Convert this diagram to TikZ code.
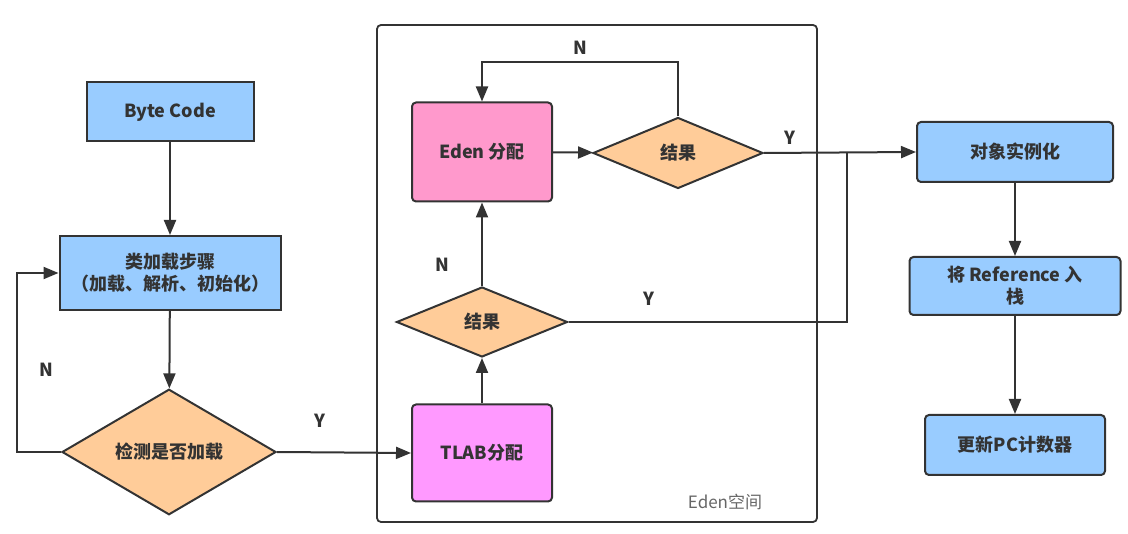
\documentclass[tikz,border=0pt]{standalone}
\usepackage{fontspec}
\setmainfont{Noto Sans CJK SC}
\usetikzlibrary{shapes.geometric,arrows.meta}
\definecolor{lineclr}{HTML}{333333}
\definecolor{blueclr}{HTML}{99CCFF}
\definecolor{orangeclr}{HTML}{FFCC99}
\definecolor{pinkclr}{HTML}{FF99CC}
\definecolor{violetclr}{HTML}{FF99FF}
\tikzset{
  box/.style={draw=lineclr, line width=2pt, fill=blueclr, text=lineclr,
    font=\fontsize{18}{22}\selectfont\bfseries, align=center, inner sep=2pt},
  rbox/.style={box, rounded corners=4pt},
  decide/.style={diamond, draw=lineclr, line width=2pt, fill=orangeclr, text=lineclr,
    font=\fontsize{18}{22}\selectfont\bfseries, inner sep=0pt},
  lbl/.style={text=lineclr, font=\fontsize{18}{22}\selectfont\bfseries},
  arr/.style={draw=lineclr, line width=2pt, -{Triangle[length=15pt, width=12pt]}},
  ln/.style={draw=lineclr, line width=2pt}
}
\begin{document}
\begin{tikzpicture}[x=1pt, y=-1pt]
\useasboundingbox (0,0) rectangle (1128,534);
% Eden space
\node[draw=lineclr, line width=1.8pt, rounded corners=4pt, minimum width=440pt, minimum height=497pt] (space) at (597,273.5) {};
\node[text=lineclr!75, font=\fontsize{17}{20}\selectfont] (spacelbl) at (725,502) {Eden空间};
% left column
\node[box, minimum width=167pt, minimum height=59pt] (byte) at (170,112) {Byte Code};
\node[box, minimum width=221pt, minimum height=74pt] (load) at (170,273) {类加载步骤\\（加载、解析、初始化）};
\node[decide, minimum width=214pt, minimum height=104pt] (check) at (169,452) {检测是否加载};
% Eden
\node[rbox, fill=pinkclr, minimum width=140pt, minimum height=99pt] (eden) at (482,152) {Eden 分配};
\node[decide, minimum width=170pt, minimum height=71pt] (res1) at (678,153) {结果};
\node[decide, minimum width=171pt, minimum height=70pt] (res2) at (482,322) {结果};
\node[rbox, fill=violetclr, minimum width=140pt, minimum height=97pt] (tlab) at (482,453) {TLAB分配};
% right column
\node[rbox, minimum width=196pt, minimum height=60pt] (obj) at (1015,152) {对象实例化};
\node[rbox, minimum width=211pt, minimum height=58pt] (ref) at (1015,286) {将 Reference 入\\栈};
\node[rbox, minimum width=180pt, minimum height=60pt] (pc) at (1015,445) {更新PC计数器};
\coordinate (join) at (847,153);

\draw [arr] (byte) -- (load);
\draw [arr] (load) -- (check);
\draw [arr] (check.west) -- ++(-44,0) |- node[lbl, pos=0.23, right=18pt] {N} (load.west);
\draw [arr] (check.east) -- node[lbl, pos=0.32, above=20pt] {Y} (tlab.west);
\draw [arr] (tlab) -- (res2);
\draw [arr] (res2) -- node[lbl, pos=0.25, left=28pt] {N} (eden);
\draw [ln] (res2.east) -| node[lbl, pos=0.145, above=12pt] {Y} (join);
\draw [arr] (eden) -- (res1);
\draw [arr] (res1.north) -- ++(0,-54) -| node[lbl, pos=0.25, above=4pt] {N} (eden.north);
\draw [arr] (res1.east) -- node[lbl, pos=0.17, above=4pt] {Y} (obj.west);
\draw [arr] (obj) -- (ref);
\draw [arr] (ref) -- (pc);
\end{tikzpicture}
\end{document}
